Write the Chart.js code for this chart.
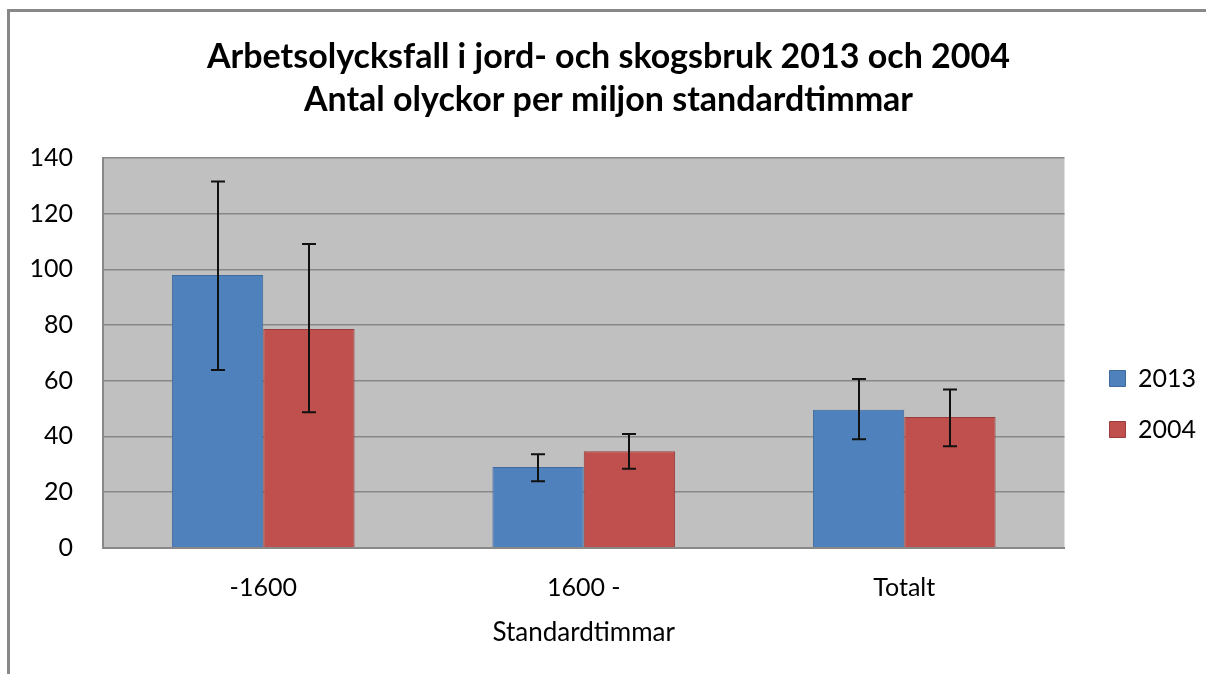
<!DOCTYPE html>
<html>
<head>
<meta charset="utf-8">
<script src="https://cdn.jsdelivr.net/npm/chart.js@4"></script>
<style>
html,body{margin:0;padding:0;background:#fff;}
#wrap{width:1206px;height:674px;position:relative;}
</style>
</head>
<body>
<div id="wrap"><canvas id="c" width="1206" height="674"></canvas></div>
<script>
const categories = ['-1600', '1600 -', 'Totalt'];
const seriesNames = ['2013', '2004'];
const values2013 = [98, 29, 49.6];
const values2004 = [78.6, 34.7, 47];
const errHigh2013 = [131.6, 33.6, 60.6];
const errLow2013 = [63.9, 23.9, 39];
const errHigh2004 = [109.1, 40.9, 56.9];
const errLow2004 = [48.7, 28.4, 36.5];
const yTicks = [0, 20, 40, 60, 80, 100, 120, 140];
const titleLines = ['Arbetsolycksfall i jord- och skogsbruk 2013 och 2004', 'Antal olyckor per miljon standardtimmar'];
const xTitle = 'Standardtimmar';

const FONT = 'Lato, "Open Sans", sans-serif';

const frame = {
  id: 'frame',
  beforeDraw(chart) {
    const ctx = chart.ctx;
    ctx.save();
    ctx.fillStyle = '#fff';
    ctx.fillRect(0, 0, chart.width, chart.height);
    ctx.fillStyle = '#888888';
    ctx.fillRect(7, 9, 3, chart.height - 9);
    ctx.fillRect(7, 9, chart.width - 7, 3);
    const a = chart.chartArea;
    ctx.fillStyle = '#C0C0C0';
    ctx.fillRect(a.left, a.top, a.right - a.left, a.bottom - a.top);
    ctx.restore();
  }
};

const shiftBoxes = {
  id: 'shiftBoxes',
  afterLayout(chart) {
    const L = chart.legend;
    if (L) {
      const dx = 19, dy = 80;
      L.left += dx; L.right += dx;
      L.top += dy; L.bottom += dy;
    }
    const T = chart.titleBlock;
    if (T) {
      T.left += 15; T.right += 15;
    }
  }
};

const errorBars = {
  id: 'errorBars',
  afterDatasetsDraw(chart) {
    const ctx = chart.ctx;
    const y = chart.scales.y;
    ctx.save();
    ctx.strokeStyle = '#111';
    ctx.lineWidth = 2;
    chart.data.datasets.forEach((ds, di) => {
      const meta = chart.getDatasetMeta(di);
      meta.data.forEach((bar, i) => {
        const top = y.getPixelForValue(ds.errHigh[i]);
        const bot = y.getPixelForValue(ds.errLow[i]);
        const x = Math.round(bar.x);
        ctx.beginPath();
        ctx.moveTo(x, top); ctx.lineTo(x, bot);
        ctx.moveTo(x - 7, top); ctx.lineTo(x + 7, top);
        ctx.moveTo(x - 7, bot); ctx.lineTo(x + 7, bot);
        ctx.stroke();
      });
    });
    ctx.restore();
  }
};

new Chart(document.getElementById('c'), {
  type: 'bar',
  data: {
    labels: categories,
    datasets: [
      { label: seriesNames[0], data: values2013, errHigh: errHigh2013, errLow: errLow2013,
        backgroundColor: '#4F81BD', borderColor: '#3F6A9E', borderWidth: 1,
        categoryPercentage: 0.57, barPercentage: 1.0 },
      { label: seriesNames[1], data: values2004, errHigh: errHigh2004, errLow: errLow2004,
        backgroundColor: '#C0504D', borderColor: '#9A3C3A', borderWidth: 1,
        categoryPercentage: 0.57, barPercentage: 1.0 }
    ]
  },
  options: {
    responsive: false,
    animation: false,
    devicePixelRatio: 1,
    layout: { padding: { left: 0, right: 19, top: 0, bottom: 26 } },
    plugins: {
      title: {
        display: true,
        text: titleLines,
        color: '#000',
        font: { family: FONT, size: 34, weight: 'bold', lineHeight: 1.265 },
        padding: { top: 35.5, bottom: 36.5 }
      },
      legend: {
        display: true,
        position: 'right',
        align: 'center',
        labels: {
          color: '#000',
          font: { family: FONT, size: 25 },
          boxWidth: 16,
          boxHeight: 16,
          padding: 26
        }
      },
      tooltip: { enabled: false }
    },
    scales: {
      x: {
        grid: { display: false, drawTicks: false },
        border: { display: true, color: '#888888', width: 2 },
        ticks: { color: '#000', font: { family: FONT, size: 25 }, padding: 25 },
        title: { display: true, text: xTitle, color: '#000', font: { family: FONT, size: 26 }, padding: { top: -11, bottom: 0 } }
      },
      y: {
        min: 0, max: 140,
        afterBuildTicks(scale) { scale.ticks = yTicks.map(v => ({ value: v })); },
        afterFit(scale) { scale.width = 103; },
        grid: { color: '#888888', lineWidth: 1.5, drawTicks: false },
        border: { display: true, color: '#888888', width: 2 },
        ticks: { color: '#000', font: { family: FONT, size: 25 }, padding: 30 }
      }
    }
  },
  plugins: [frame, shiftBoxes, errorBars]
});
</script>
</body>
</html>
